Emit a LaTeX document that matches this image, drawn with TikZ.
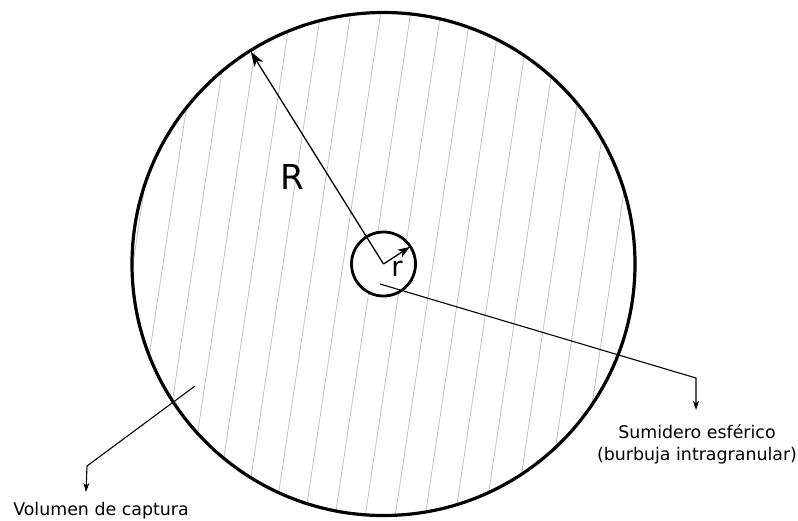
\documentclass[tikz,border=0pt]{standalone}
\usepackage{fontspec}
\setmainfont{DejaVu Sans}
\usetikzlibrary{arrows.meta}
\tikzset{
  hatchline/.style={draw=black!25, line width=0.8pt},
  bigcircle/.style={draw=black, circle, line width=3.2pt, inner sep=0pt, outer sep=0pt, minimum size=503pt},
  smallcircle/.style={draw=black, fill=white, circle, line width=2.8pt, inner sep=0pt, outer sep=0pt, minimum size=64pt},
  radiusarrow/.style={line width=1.3pt, -{Stealth[length=15pt,width=10pt,inset=4pt]}},
  smallarrow/.style={line width=1.3pt, -{Stealth[length=12pt,width=8.5pt,inset=3pt]}},
  leader/.style={line width=1.1pt, -{Stealth[length=9pt,width=6pt,inset=2.5pt]}},
  lbl/.style={inner sep=0pt, outer sep=0pt, font=\fontsize{17.4}{22}\selectfont}
}
\begin{document}
\begin{tikzpicture}[x=1pt,y=-1pt]
\useasboundingbox (0,0) rectangle (798,520);
\coordinate (O) at (383.5,264);
% hatching inside the capture volume
\begin{scope}
  \clip (O) circle[radius=251];
  \foreach \k in {-12,...,16} {
    \draw[hatchline] ({292.6+30*\k},0) -- ({214.6+30*\k},520);
  }
\end{scope}
\node[bigcircle] (big) at (O) {};
\node[smallcircle] (small) at (O) {};
% radii
\draw[radiusarrow, shorten >=1pt] (O) -- (big.122.7);
\draw[smallarrow, shorten >=0.5pt] (O) -- (small.33);
\node[inner sep=0pt, font=\fontsize{34.3}{40}\selectfont] (Rlbl) at (292.8,176.7) {R};
\node[inner sep=0pt, font=\fontsize{27.5}{32}\selectfont] (rlbl) at (397,269) {r};
% labels
\node[lbl, align=center] (sum) at (697,444.5) {Sumidero esférico\\(burbuja intragranular)};
\node[lbl, anchor=base] (vol) at (101,515) {Volumen de captura};
% leaders
\coordinate (s1) at (380,284);
\coordinate (s2) at (696,378);
\coordinate (s3) at (696,410);
\draw[leader] (s1) -- (s2) -- (s3);
\coordinate (v1) at (195,386);
\coordinate (v2) at (87,466);
\coordinate (v3) at (86,492);
\draw[leader] (v1) -- (v2) -- (v3);
\end{tikzpicture}
\end{document}
